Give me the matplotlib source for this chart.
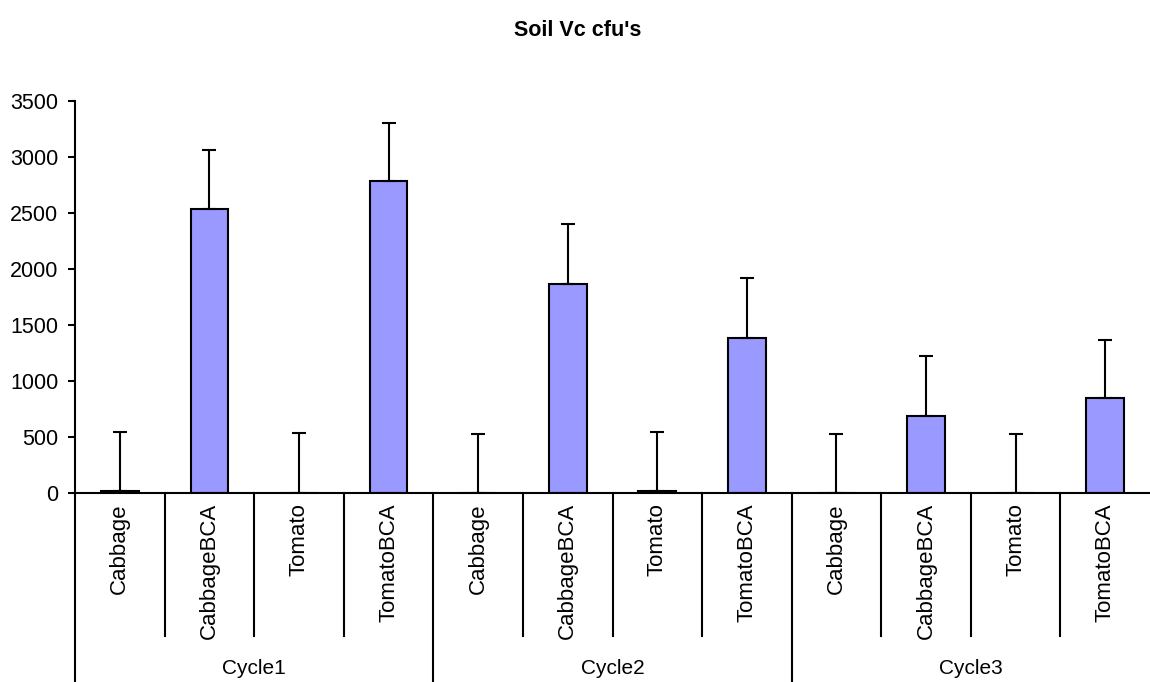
import matplotlib
matplotlib.use("Agg")
import matplotlib.pyplot as plt
import matplotlib.transforms as mtransforms

plt.rcParams['font.family'] = ['Liberation Sans', 'DejaVu Sans']

# Data
groups = ["Cycle1", "Cycle2", "Cycle3"]
crops = ["Cabbage", "CabbageBCA", "Tomato", "TomatoBCA"]
cfu_means = [15, 2533, 0, 2786,
             0, 1869, 15, 1387,
             0, 690, 0, 851]
cfu_errors = [530, 530, 536, 518,
              527, 536, 530, 536,
              527, 536, 527, 518]
y_ticks = [0, 500, 1000, 1500, 2000, 2500, 3000, 3500]

W, H = 1150, 682
fig = plt.figure(figsize=(W / 100, H / 100), dpi=100)
ax_left, ax_right, ax_top, ax_bottom = 75, 1150, 101, 493
ax = fig.add_axes([ax_left / W, 1 - ax_bottom / H,
                   (ax_right - ax_left) / W, (ax_bottom - ax_top) / H])

n = len(cfu_means)
x = list(range(n))
ax.bar(x, cfu_means, width=0.42, color="#9999FF", edgecolor="black",
       linewidth=1.5, zorder=2)
ax.errorbar(x, cfu_means, yerr=[[0] * n, cfu_errors], fmt="none",
            ecolor="black", elinewidth=1.5, capsize=4.8, capthick=1.5,
            zorder=3)

ax.set_xlim(-0.5, n - 0.5)
ax.set_ylim(0, 3500)
ax.set_yticks(y_ticks)
ax.tick_params(axis="y", direction="out", length=5, width=1.5, pad=7,
               labelsize=15.5)
ax.set_xticks([])

for side in ["top", "right"]:
    ax.spines[side].set_visible(False)
ax.spines["left"].set_linewidth(1.5)
ax.spines["bottom"].set_linewidth(1.5)

# Multi-level category axis below the plot
ax_h = ax_bottom - ax_top
trans = mtransforms.blended_transform_factory(ax.transData, ax.transAxes)
inner_bottom = -(636 - ax_bottom) / ax_h
outer_bottom = -(H - ax_bottom) / ax_h

for k in range(1, n):
    is_group_edge = k % len(crops) == 0
    y_end = outer_bottom if is_group_edge else inner_bottom
    ax.plot([k - 0.5, k - 0.5], [0, y_end], color="black", lw=1.5,
            transform=trans, clip_on=False)
ax.plot([-0.5, -0.5], [0, outer_bottom], color="black", lw=1.5,
        transform=trans, clip_on=False)

label_top = -(503 - ax_bottom) / ax_h
for i in range(n):
    ax.text(i, label_top, crops[i % len(crops)], rotation=90, ha="center",
            va="top", fontsize=16, transform=trans)

group_y = -(668 - ax_bottom) / ax_h
for g, name in enumerate(groups):
    center = g * len(crops) + (len(crops) - 1) / 2
    ax.text(center, group_y, name, ha="center", va="center", fontsize=15,
            transform=trans)

fig.text(578 / W, 1 - 31 / H, "Soil Vc cfu's", ha="center", va="center",
         fontsize=15.5, fontweight="bold")

fig.savefig("out.png", dpi=100)
